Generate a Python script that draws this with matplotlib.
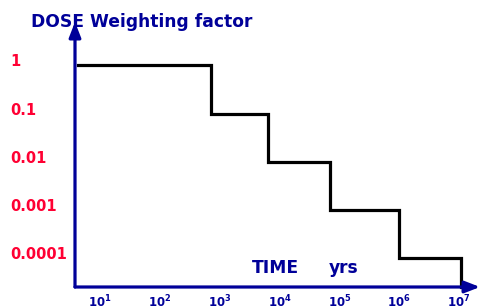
import numpy as np
import matplotlib.pyplot as plt
from matplotlib.transforms import blended_transform_factory, offset_copy

plt.rcParams['font.family'] = 'DejaVu Sans'
plt.rcParams['mathtext.fontset'] = 'custom'
plt.rcParams['mathtext.rm'] = 'DejaVu Sans:bold'
plt.rcParams['mathtext.bf'] = 'DejaVu Sans:bold'

navy = '#000099'
red = '#ff0033'

# step edges (years) and weighting factor levels
edges = [10**0.63, 700, 6300, 70000, 1e6, 1.07e7]
levels = [1, 0.1, 0.01, 0.001, 0.0001]
ytick_vals = [1, 0.1, 0.01, 0.001, 0.0001]
ytick_labels = ['1', '0.1', '0.01', '0.001', '0.0001']
xtick_exp = [1, 2, 3, 4, 5, 6, 7]

fig = plt.figure(figsize=(4.8, 3.07), dpi=100)
ax = fig.add_axes([75 / 480, 20 / 307, 405 / 480, 265 / 307])
ax.set_xscale('log')
ax.set_yscale('log')
ax.set_xlim(10**0.58, 10**7.35)
ax.set_ylim(10**-4.6, 10**0.9)

# staircase
xs, ys = [], []
for i, lv in enumerate(levels):
    xs += [edges[i], edges[i + 1]]
    ys += [lv, lv]
xs.append(edges[-1])
ys.append(10**-4.6)
ax.plot(xs, ys, color='black', lw=2.3, solid_joinstyle='miter', clip_on=False)

for s in ax.spines.values():
    s.set_visible(False)

# axes as arrows
arrow = dict(arrowstyle='-|>,head_length=0.9,head_width=0.35',
             color=navy, lw=2.3, shrinkA=0, shrinkB=0)
ax.annotate('', xy=(0, 1.0), xytext=(0, 0), xycoords='axes fraction', arrowprops=arrow)
ax.annotate('', xy=(1.0, 0), xytext=(0, 0), xycoords='axes fraction', arrowprops=arrow)

# y labels drawn as text, a bit above each level
ax.set_yticks([])
ax.yaxis.set_minor_locator(plt.NullLocator())
ytrans = offset_copy(blended_transform_factory(fig.transFigure, ax.transData),
                     fig=fig, x=0, y=2.5, units='points')
for v, lab in zip(ytick_vals, ytick_labels):
    ax.text(10 / 480, v, lab, transform=ytrans, color=red, fontsize=10.5,
            fontweight='bold', ha='left', va='center')

ax.set_xticks([10.0**e for e in xtick_exp])
ax.set_xticklabels([r'$\mathbf{10^{%d}}$' % e for e in xtick_exp])
ax.xaxis.set_minor_locator(plt.NullLocator())
ax.tick_params(axis='x', length=0, pad=5, labelcolor=navy, labelsize=8.5)

fig.text(31 / 480, 1 - 22 / 307, 'DOSE Weighting factor', color=navy,
         fontsize=12.3, fontweight='bold', va='center', ha='left')
fig.text(252 / 480, 1 - 268 / 307, 'TIME', color=navy,
         fontsize=12.3, fontweight='bold', va='center', ha='left')
fig.text(329 / 480, 1 - 268 / 307, 'yrs', color=navy,
         fontsize=12.3, fontweight='bold', va='center', ha='left')

fig.savefig('out.png', dpi=100)
